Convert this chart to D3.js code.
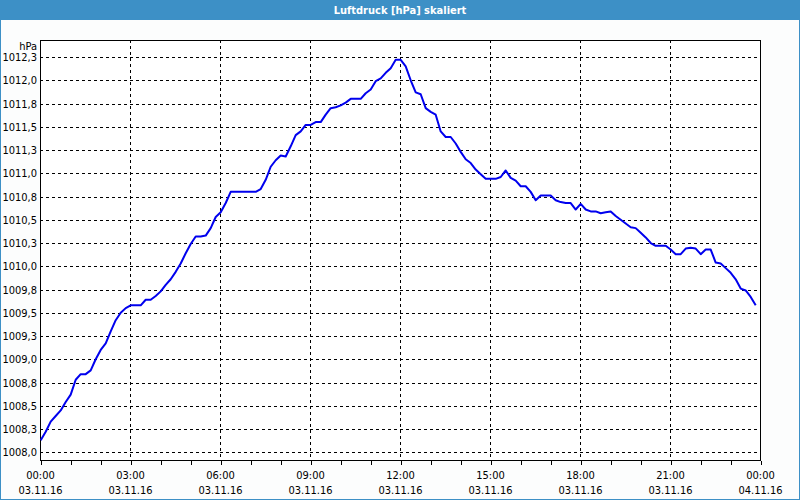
<!DOCTYPE html>
<head>
  <meta charset="utf-8">
  <script src="https://d3js.org/d3.v7.min.js"></script>
  <style>
    body { margin:0; background:#fcfdfd; }
    svg { display:block; }
    text { font-family: "DejaVu Sans Condensed", "DejaVu Sans", sans-serif; font-size: 11px; fill: #000; }
    .title { font-family: "DejaVu Sans Condensed", "DejaVu Sans", sans-serif; font-weight: bold; fill: #fff; font-size: 11px; }
    .grid line { stroke: #000; stroke-dasharray: 3,3; shape-rendering: crispEdges; }
    .axis path, .axis line { stroke: #000; shape-rendering: crispEdges; }
    .line { fill: none; stroke: #0000ee; stroke-width: 2; stroke-linejoin: round; }
  </style>
</head>
<body>
  <div class="chart"></div>
  <script>
    const title = 'Luftdruck [hPa] skaliert';
    const unitLabel = 'hPa';

    // one reading every 10 minutes, starting 03.11.16 00:00
    const sampleStepMinutes = 10;
    const pressure = [
      1008.13, 1008.22, 1008.33, 1008.39, 1008.45, 1008.54, 1008.62, 1008.78, 1008.84, 1008.84,
      1008.88, 1009.00, 1009.10, 1009.17, 1009.30, 1009.42, 1009.50, 1009.55, 1009.58, 1009.58,
      1009.58, 1009.64, 1009.64, 1009.68, 1009.73, 1009.80, 1009.86, 1009.94, 1010.03, 1010.14,
      1010.24, 1010.32, 1010.32, 1010.33, 1010.41, 1010.53, 1010.58, 1010.68, 1010.80, 1010.80,
      1010.80, 1010.80, 1010.80, 1010.80, 1010.83, 1010.93, 1011.07, 1011.14, 1011.19, 1011.18,
      1011.29, 1011.41, 1011.45, 1011.52, 1011.52, 1011.55, 1011.55, 1011.63, 1011.70, 1011.71,
      1011.73, 1011.76, 1011.80, 1011.80, 1011.80, 1011.86, 1011.90, 1011.99, 1012.02, 1012.08,
      1012.13, 1012.22, 1012.22, 1012.15, 1012.00, 1011.87, 1011.85, 1011.70, 1011.66, 1011.63,
      1011.45, 1011.39, 1011.39, 1011.32, 1011.23, 1011.15, 1011.11, 1011.04, 1010.99, 1010.94,
      1010.94, 1010.94, 1010.96, 1011.03, 1010.95, 1010.92, 1010.86, 1010.86, 1010.80, 1010.71,
      1010.76, 1010.76, 1010.76, 1010.71, 1010.69, 1010.68, 1010.68, 1010.61, 1010.67, 1010.61,
      1010.59, 1010.59, 1010.57, 1010.58, 1010.59, 1010.54, 1010.50, 1010.46, 1010.42, 1010.41,
      1010.36, 1010.31, 1010.25, 1010.22, 1010.22, 1010.22, 1010.18, 1010.13, 1010.13, 1010.19,
      1010.20, 1010.19, 1010.13, 1010.18, 1010.18, 1010.04, 1010.03, 1009.98, 1009.93, 1009.86,
      1009.76, 1009.74, 1009.67, 1009.58
    ];

    const yTicks = [1008.0, 1008.25, 1008.5, 1008.75, 1009.0, 1009.25, 1009.5, 1009.75, 1010.0,
      1010.25, 1010.5, 1010.75, 1011.0, 1011.25, 1011.5, 1011.75, 1012.0, 1012.25];
    const yTickLabels = ['1008,0', '1008,3', '1008,5', '1008,8', '1009,0', '1009,3', '1009,5', '1009,8', '1010,0',
      '1010,3', '1010,5', '1010,8', '1011,0', '1011,3', '1011,5', '1011,8', '1012,0', '1012,3'];

    const xTickHours = [0, 3, 6, 9, 12, 15, 18, 21, 24];
    const xTickTimes = ['00:00', '03:00', '06:00', '09:00', '12:00', '15:00', '18:00', '21:00', '00:00'];
    const xTickDates = ['03.11.16', '03.11.16', '03.11.16', '03.11.16', '03.11.16', '03.11.16', '03.11.16', '03.11.16', '04.11.16'];
    const xMinorHours = d3.range(0, 25, 1);

    const W = 800, H = 500;
    const plot = { left: 40, right: 760, top: 40, bottom: 460 };

    const svg = d3.select('.chart').append('svg')
      .attr('width', W)
      .attr('height', H);

    // outer frame + title bar
    svg.append('rect')
      .attr('x', 0.5).attr('y', 0.5).attr('width', W - 1).attr('height', H - 1)
      .attr('fill', '#fcfdfd').attr('stroke', '#3d90c6');
    svg.append('rect')
      .attr('x', 0).attr('y', 0).attr('width', W).attr('height', 20)
      .attr('fill', '#3d90c6');
    svg.append('text')
      .attr('class', 'title')
      .attr('x', W / 2).attr('y', 10)
      .attr('text-anchor', 'middle')
      .attr('dominant-baseline', 'central')
      .text(title);

    const x = d3.scaleLinear()
      .domain([0, 24])
      .range([plot.left, plot.right]);

    const y = d3.scaleLinear()
      .domain([1007.906, 1012.433])
      .range([plot.bottom + 1, plot.top]);

    const crisp = v => Math.round(v) + 0.5;

    svg.append('rect')
      .attr('x', plot.left).attr('y', plot.top)
      .attr('width', plot.right - plot.left).attr('height', plot.bottom - plot.top)
      .attr('fill', '#fff');

    // grid
    const grid = svg.append('g').attr('class', 'grid');
    grid.selectAll('.h')
      .data(yTicks)
      .enter().append('line')
      .attr('x1', plot.left).attr('x2', plot.right)
      .attr('y1', d => crisp(y(d))).attr('y2', d => crisp(y(d)));
    grid.selectAll('.v')
      .data(xTickHours.slice(1, -1))
      .enter().append('line')
      .attr('x1', d => crisp(x(d))).attr('x2', d => crisp(x(d)))
      .attr('y1', plot.top).attr('y2', plot.bottom);

    // x axis: hourly ticks, two-line labels every 3 hours
    const xAxis = svg.append('g')
      .attr('class', 'axis')
      .attr('transform', `translate(0.5, ${plot.bottom + 0.5})`)
      .call(d3.axisBottom(x).tickValues(xMinorHours).tickSize(4).tickSizeOuter(0).tickFormat(''));
    xAxis.select('.domain').remove();

    const xLabels = svg.append('g');
    xLabels.selectAll('.t')
      .data(xTickHours)
      .enter().append('text')
      .attr('x', d => x(d) + 0.5)
      .attr('y', 475)
      .attr('text-anchor', 'middle')
      .attr('dominant-baseline', 'central')
      .text((d, i) => xTickTimes[i]);
    xLabels.selectAll('.d')
      .data(xTickHours)
      .enter().append('text')
      .attr('x', d => x(d) + 0.5)
      .attr('y', 490)
      .attr('text-anchor', 'middle')
      .attr('dominant-baseline', 'central')
      .text((d, i) => xTickDates[i]);

    // y axis labels
    const yAxis = svg.append('g')
      .attr('class', 'axis')
      .attr('transform', `translate(${plot.left}, 0)`)
      .call(d3.axisLeft(y).tickValues(yTicks).tickSize(0).tickPadding(3)
        .tickFormat((d, i) => yTickLabels[i]));
    yAxis.select('.domain').remove();
    yAxis.selectAll('text')
      .attr('y', 0).attr('dy', null)
      .attr('dominant-baseline', 'central')
      .attr('font-family', null).attr('font-size', null);

    svg.append('text')
      .attr('x', plot.left - 3).attr('y', 46)
      .attr('text-anchor', 'end')
      .attr('dominant-baseline', 'central')
      .text(unitLabel);

    // frame
    svg.append('rect')
      .attr('x', plot.left + 0.5).attr('y', plot.top + 0.5)
      .attr('width', plot.right - plot.left).attr('height', plot.bottom - plot.top)
      .attr('fill', 'none').attr('stroke', '#000')
      .style('shape-rendering', 'crispEdges');

    // pressure line
    const line = d3.line()
      .x((d, i) => x(i * sampleStepMinutes / 60) + 0.7)
      .y(d => y(d));

    svg.append('path')
      .datum(pressure)
      .attr('class', 'line')
      .attr('d', line);
  </script>
</body>
